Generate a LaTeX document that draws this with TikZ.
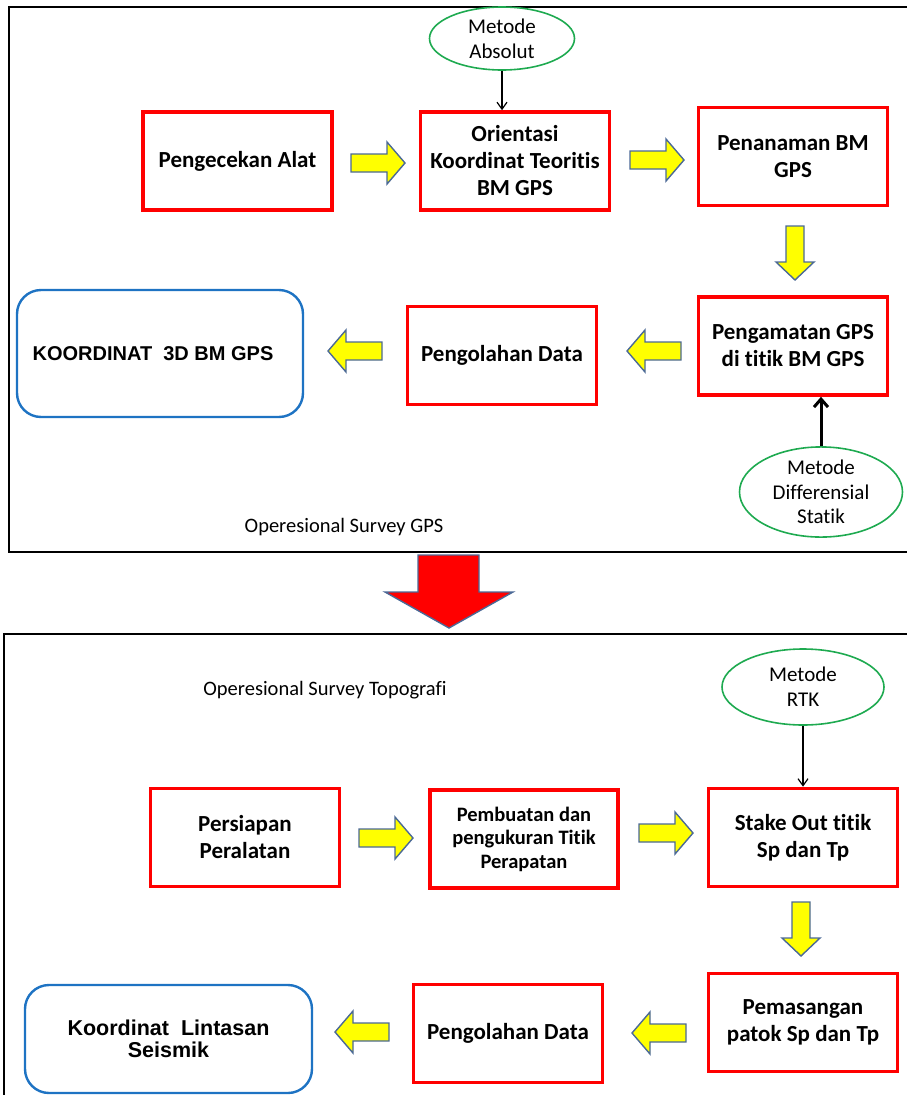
\documentclass[tikz,border=0pt]{standalone}
\usepackage{fontspec}
\setmainfont{Carlito}[Ligatures=NoCommon]
\newfontfamily\heavyfont{Liberation Sans}
\usetikzlibrary{shapes.geometric,arrows.meta}
\definecolor{boxred}{RGB}{255,0,0}
\definecolor{boxblue}{RGB}{30,115,195}
\definecolor{ovalgreen}{RGB}{30,170,80}
\definecolor{arrowedge}{RGB}{75,105,150}
\definecolor{arrowfill}{RGB}{255,255,0}
\tikzset{
  stepbox/.style={draw=boxred, line width=3.6pt, minimum width=189pt, minimum height=98pt,
    align=center, font=\fontsize{23}{27}\selectfont\bfseries, inner sep=2pt},
  resultbox/.style={draw=boxblue, line width=2.4pt, rounded corners=24pt,
    align=center, font=\heavyfont\fontsize{20}{19}\selectfont\bfseries},
  method/.style={draw=ovalgreen, line width=1.6pt, ellipse, inner sep=0pt,
    align=center, font=\fontsize{21}{25}\selectfont},
  caption/.style={font=\fontsize{20.5}{24}\selectfont},
  frame/.style={draw=black, line width=2pt},
  blk/.style={fill=arrowfill, draw=arrowedge, line width=1.4pt, line join=miter},
  pics/rarr/.style={code={\path[blk] (-27,-9) -- (9,-9) -- (9,-21) -- (27,0) -- (9,21) -- (9,9) -- (-27,9) -- cycle;}},
  pics/larr/.style={code={\path[blk] (27,-9) -- (-9,-9) -- (-9,-21) -- (-27,0) -- (-9,21) -- (-9,9) -- (27,9) -- cycle;}},
  pics/darr/.style={code={\path[blk] (-9,-27) -- (-9,9) -- (-19,9) -- (0,27) -- (19,9) -- (9,9) -- (9,-27) -- cycle;}},
}
\begin{document}
\begin{tikzpicture}[x=1pt,y=-1pt]
\useasboundingbox (0,0) rectangle (907,1095);
\clip (0,0) rectangle (907,1095);

% outer frames of the two stages
\draw[frame] (920,7) -- (9,7) -- (9,552) -- (920,552);
\draw[frame] (920,634) -- (4,634) -- (4,1110);

% ---------- GPS survey stage ----------
\node[stepbox] (cek) at (237.5,161) {Pengecekan Alat};
\node[stepbox] (ori) at (515,161) {Orientasi\\Koordinat Teoritis\\BM GPS};
\node[stepbox] (tanam) at (793,156.5) {Penanaman BM\\GPS};
\node[stepbox] (amat) at (793,346) {Pengamatan GPS\\di titik BM GPS};
\node[stepbox] (olah1) at (502,355.5) {Pengolahan Data};
\node[resultbox, minimum width=286pt, minimum height=127pt] (hasil1) at (160,353.5)
  {\hspace*{-14pt}KOORDINAT\ \ 3D BM GPS};
\node[method, minimum width=145pt, minimum height=63pt] (absolut) at (502,38.5) {Metode\\Absolut};
\node[method, minimum width=163pt, minimum height=76pt, font=\fontsize{21}{24.5}\selectfont] (diff) at (821,492) {Metode\\Differensial\\Statik};
\node[caption] (cap1) at (344,527) {Operesional Survey GPS};

\draw[-{Straight Barb[length=7pt,width=10pt]}, line width=1.2pt] (absolut.south) -- (absolut.south |- ori.north);
\draw[-{Straight Barb[length=8pt,width=14pt]}, line width=3pt] (diff.north) -- (diff.north |- amat.south);

\pic at (378,163) {rarr};
\pic at (657,160) {rarr};
\pic at (795,253) {darr};
\pic at (654,351) {larr};
\pic at (355,351) {larr};

% transition between the stages
\path[fill=boxred, draw=arrowedge, line width=1.4pt, line join=miter]
  (418,555) -- (479,555) -- (479,592) -- (513,592) -- (449,628) -- (385,592) -- (418,592) -- cycle;

% ---------- topographic survey stage ----------
\node[caption] (cap2) at (325,690) {Operesional Survey Topografi};
\node[method, minimum width=162pt, minimum height=76pt] (rtk) at (803,687) {Metode\\RTK};
\node[stepbox] (siap) at (245,837.5) {Persiapan\\Peralatan};
\node[stepbox, minimum width=188pt, font=\fontsize{20.5}{23.5}\selectfont\bfseries] (buat) at (524,839) {Pembuatan dan\\pengukuran Titik\\Perapatan};
\node[stepbox] (stake) at (803,837.5) {Stake Out titik\\Sp dan Tp};
\node[stepbox] (pasang) at (803,1022.5) {Pemasangan\\patok Sp dan Tp};
\node[stepbox] (olah2) at (508,1033.5) {Pengolahan Data};
\node[resultbox, minimum width=287pt, minimum height=108pt, font=\heavyfont\fontsize{21.5}{21.5}\selectfont\bfseries] (hasil2) at (168.5,1039)
  {Koordinat\ \ Lintasan\\Seismik};

\draw[-{Straight Barb[length=7pt,width=10pt]}, line width=1.2pt] (rtk.south) -- (rtk.south |- stake.north);

\pic at (386,838) {rarr};
\pic at (666,833) {rarr};
\pic at (801,929) {darr};
\pic at (659,1033) {larr};
\pic at (362,1032) {larr};
\end{tikzpicture}
\end{document}
